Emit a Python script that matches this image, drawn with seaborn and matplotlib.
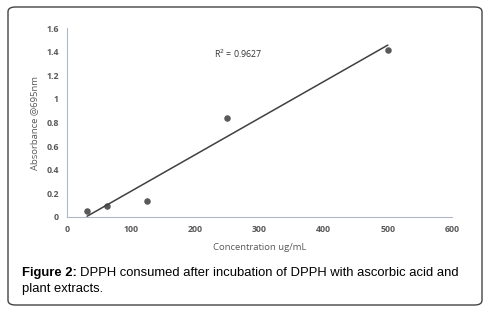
import numpy as np
import pandas as pd
import seaborn as sns
import matplotlib.pyplot as plt
from matplotlib.patches import FancyBboxPatch

# data
conc = [31.25, 62.5, 125, 250, 500]
absorb = [0.055, 0.096, 0.138, 0.84, 1.414]
r2_text = 'R$^2$ = 0.9627'

df = pd.DataFrame({'conc': conc, 'absorb': absorb})

sns.set_style('white')
plt.rcParams['font.family'] = ['Open Sans', 'DejaVu Sans']

fig = plt.figure(figsize=(4.97, 3.12), dpi=100)
ax = fig.add_axes([67/497, 1 - 217/312, 385/497, 189/312])

grey = '#595959'
sns.regplot(data=df, x='conc', y='absorb', ci=None, truncate=True, ax=ax,
            scatter_kws={'s': 22, 'color': grey, 'alpha': 1, 'linewidths': 0},
            line_kws={'color': '#404040', 'lw': 1.1})

ax.set_xlim(0, 600)
ax.set_ylim(0, 1.6)
ax.set_xticks(np.arange(0, 601, 100))
ax.set_yticks(np.arange(0, 1.61, 0.2))
ax.set_yticklabels(['0', '0.2', '0.4', '0.6', '0.8', '1', '1.2', '1.4', '1.6'])
ax.tick_params(labelsize=6.3, colors=grey, length=0, pad=6)
for lab in ax.get_xticklabels() + ax.get_yticklabels():
    lab.set_fontweight('bold')
ax.set_xlabel('Concentration ug/mL', fontsize=6.8, color=grey, labelpad=6)
ax.set_ylabel('Absorbance @695nm', fontsize=6.8, color=grey, labelpad=5)
sns.despine(ax=ax)
for s in ['left', 'bottom']:
    ax.spines[s].set_color('#b0b8c8')
    ax.spines[s].set_linewidth(0.8)

ax.text(266, 1.38, r2_text, fontsize=6.3, color='#333333', ha='center', va='center')

# rounded frame
frame = FancyBboxPatch((8/497, 1 - 305/312), (482 - 8)/497, (305 - 7)/312,
                       boxstyle='round,pad=0,rounding_size=0.015',
                       transform=fig.transFigure, fill=False, ec='#444444', lw=1.0)
fig.add_artist(frame)

# caption
cap_font = ['Liberation Sans', 'DejaVu Sans']
t1 = fig.text(22/497, 1 - 273/312, 'Figure 2:', fontsize=9.4, fontweight='bold',
              family=cap_font, va='center', color='black')
fig.canvas.draw()
bb = t1.get_window_extent()
fig.text(bb.x1/497 + 3/497, 1 - 273/312, 'DPPH consumed after incubation of DPPH with ascorbic acid and',
         fontsize=9.4, family=cap_font, va='center', color='black')
fig.text(22/497, 1 - 289/312, 'plant extracts.', fontsize=9.4, family=cap_font,
         va='center', color='black')

fig.savefig('out.png', dpi=100)
